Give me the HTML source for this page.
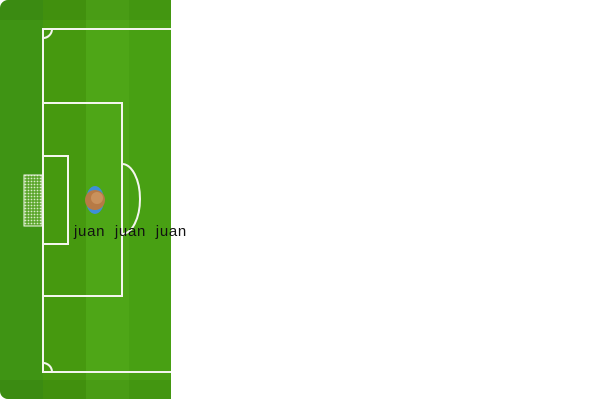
<!DOCTYPE html>
<html><head><meta charset="utf-8"><style>
html,body{margin:0;padding:0;background:#fff;width:600px;height:401px;overflow:hidden}
#f{position:absolute;left:0;top:0}
.t{position:absolute;left:74px;top:223px;font:15px "Liberation Sans",sans-serif;color:#111;white-space:pre;letter-spacing:0.7px}
</style></head><body>
<svg id="f" width="600" height="401">
<defs>
<clipPath id="c"><path d="M8 0 H171 V399 H8 A8 8 0 0 1 0 391 V8 A8 8 0 0 1 8 0 Z"/></clipPath>
<pattern id="net" width="3" height="3" patternUnits="userSpaceOnUse"><rect width="3" height="3" fill="#5aa52a"/><circle cx="1.5" cy="1.5" r="0.9" fill="#d8ecc8"/></pattern>
</defs>
<g clip-path="url(#c)">
<rect x="0" y="0" width="43" height="399" fill="#3f9414"/>
<rect x="43" y="0" width="43" height="399" fill="#46990f"/>
<rect x="86" y="0" width="43" height="399" fill="#4ea617"/>
<rect x="129" y="0" width="42" height="399" fill="#48a013"/>
<rect x="0" y="0" width="171" height="20" fill="#000" opacity="0.06"/>
<rect x="0" y="380" width="171" height="19" fill="#000" opacity="0.06"/>
</g>
<g fill="none" stroke="#f4f6ee" stroke-width="2">
<path d="M171 29 H43 V372 H171"/>
<rect x="43" y="103" width="79" height="193"/>
<rect x="43" y="156" width="25" height="88"/>
<path d="M122 164 A18 35 0 0 1 122 234"/>
<path d="M43 38 A9 9 0 0 0 52 29"/>
<path d="M43 363 A9 9 0 0 1 52 372"/>
</g>
<rect x="24" y="175" width="18" height="51" fill="url(#net)" stroke="#f4f6ee" stroke-width="1"/>
<g>
<ellipse cx="95" cy="200" rx="9" ry="14" fill="#3e8fd8"/>
<circle cx="95" cy="200" r="10" fill="#b77a45"/>
<circle cx="97" cy="198" r="6" fill="#c9915c"/>
</g>
</svg>
<div class="t">juan  juan  juan</div>
</body></html>
